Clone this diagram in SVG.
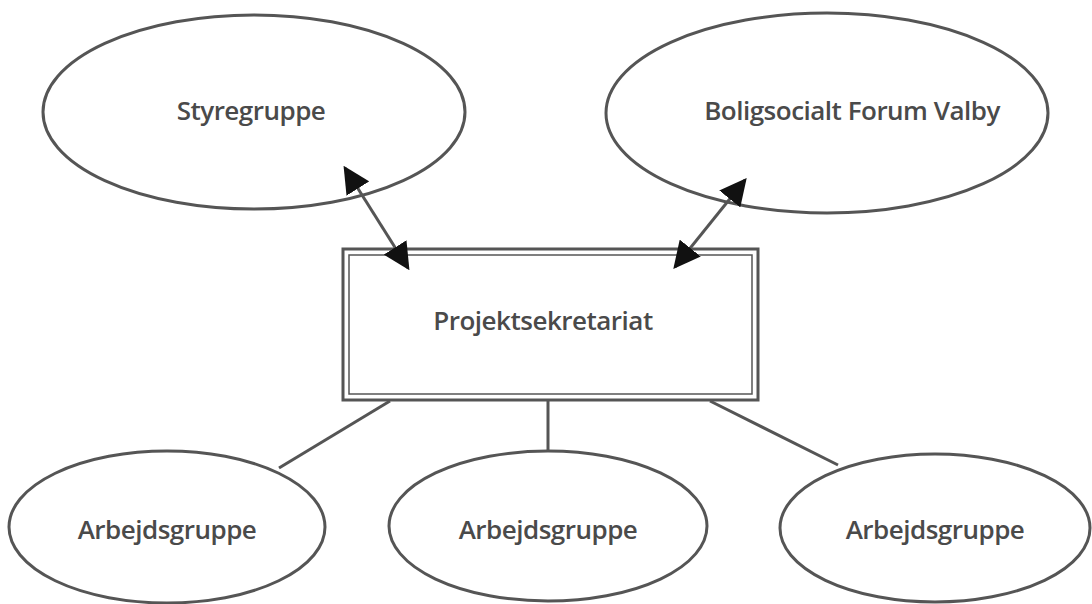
<svg xmlns="http://www.w3.org/2000/svg" width="1092" height="604" viewBox="0 0 1092 604">
<style>
.node{fill:#fff;stroke:#555;stroke-width:3}
.lbl{font-family:"Open Sans","Noto Sans",sans-serif;font-size:26px;font-weight:600;fill:#4a4a4a;text-anchor:middle;dominant-baseline:central;letter-spacing:-0.5px}
.con{stroke:#555;stroke-width:3;fill:none}
</style>
<defs>
<marker id="a" viewBox="0 0 10 10" refX="9" refY="5" markerWidth="9" markerHeight="9" orient="auto-start-reverse">
<path d="M0,0 L10,5 L0,10 z" fill="#111"/>
</marker>
</defs>
<rect width="1092" height="604" fill="#fff"/>
<g id="n-styregruppe">
<ellipse class="node" cx="254" cy="112" rx="211" ry="97"/>
<text class="lbl" x="251" y="110">Styregruppe</text>
</g>
<g id="n-boligsocialt">
<ellipse class="node" cx="827" cy="113" rx="221" ry="100"/>
<text class="lbl" x="852" y="110">Boligsocialt Forum Valby</text>
</g>
<g id="n-projekt">
<rect class="node" x="343" y="249" width="415" height="151"/>
<rect x="349" y="255" width="403" height="139" fill="none" stroke="#555" stroke-width="1.5"/>
<text class="lbl" x="543" y="320">Projektsekretariat</text>
</g>
<g id="n-arb1">
<ellipse class="node" cx="167" cy="527" rx="158" ry="76"/>
<text class="lbl" x="167" y="529">Arbejdsgruppe</text>
</g>
<g id="n-arb2">
<ellipse class="node" cx="548" cy="526" rx="159" ry="75"/>
<text class="lbl" x="548" y="529">Arbejdsgruppe</text>
</g>
<g id="n-arb3">
<ellipse class="node" cx="935" cy="528" rx="155" ry="74"/>
<text class="lbl" x="935" y="529">Arbejdsgruppe</text>
</g>
<g id="connectors">
<line class="con" x1="345" y1="168" x2="408" y2="268" marker-start="url(#a)" marker-end="url(#a)"/>
<line class="con" x1="745" y1="180" x2="675" y2="267" marker-start="url(#a)" marker-end="url(#a)"/>
<line class="con" x1="390" y1="401" x2="279" y2="468"/>
<line class="con" x1="548" y1="401" x2="548" y2="451"/>
<line class="con" x1="710" y1="401" x2="838" y2="465"/>
</g>
</svg>
